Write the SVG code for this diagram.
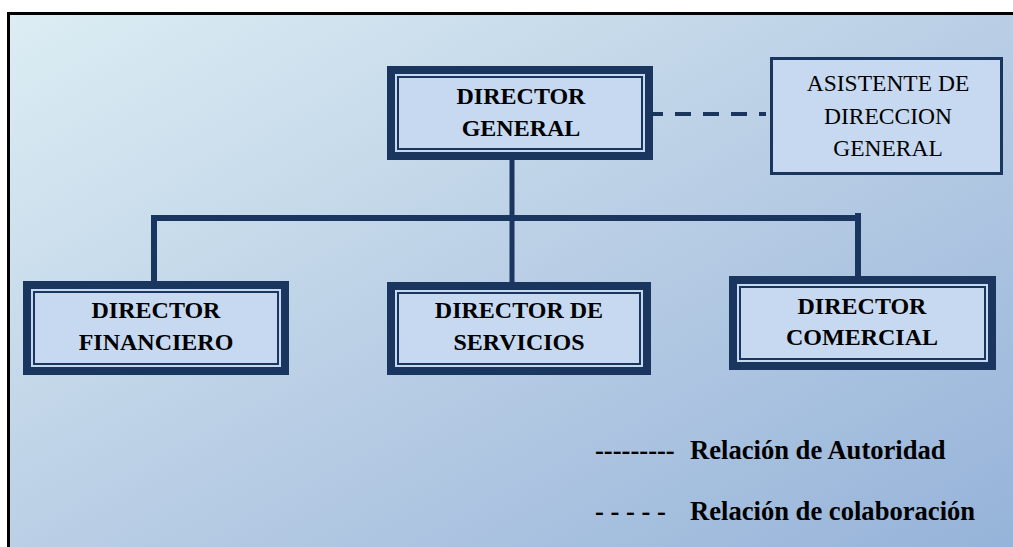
<svg xmlns="http://www.w3.org/2000/svg" width="1013" height="547" viewBox="0 0 1013 547">
  <defs>
    <linearGradient id="bg" x1="0" y1="0" x2="1" y2="1">
      <stop offset="0" stop-color="#dcedf3"/>
      <stop offset="0.5" stop-color="#b9cee5"/>
      <stop offset="1" stop-color="#93b1d8"/>
    </linearGradient>
    <style>
      .outer { fill: #1b365e; }
      .inner { fill: #c6d9f0; }
      .thin { fill: none; stroke: #1b365e; stroke-width: 2; }
      .conn { stroke: #1b365e; fill: none; }
      .tb { font-family: "Liberation Serif", "Times New Roman", serif; font-weight: bold; font-size: 24px; fill: #000; text-anchor: middle; }
      .tr { font-family: "Liberation Serif", "Times New Roman", serif; font-size: 23.5px; fill: #000; text-anchor: middle; }
      .lg { font-family: "Liberation Serif", "Times New Roman", serif; font-weight: bold; font-size: 26.6px; fill: #000; }
    </style>
  </defs>

  <rect x="0" y="0" width="1013" height="547" fill="#ffffff"/>
  <rect x="8.5" y="13.5" width="1020" height="560" fill="url(#bg)" stroke="#000" stroke-width="3"/>

  <g id="connectors">
    <line class="conn" x1="512" y1="158" x2="512" y2="284" stroke-width="5"/>
    <line class="conn" x1="151" y1="218" x2="861" y2="218" stroke-width="6"/>
    <line class="conn" x1="154" y1="215" x2="154" y2="283" stroke-width="6"/>
    <line class="conn" x1="858" y1="213" x2="858" y2="278" stroke-width="6"/>
    <line class="conn" x1="653" y1="114" x2="766" y2="114" stroke-width="4" stroke-dasharray="16 12" stroke-dashoffset="6"/>
  </g>

  <g id="director-general">
    <rect class="outer" x="387" y="66" width="266" height="94"/>
    <rect class="inner" x="395" y="74" width="250" height="78"/>
    <rect class="thin" x="398" y="77" width="244" height="72"/>
    <text class="tb" x="521" y="104">DIRECTOR</text>
    <text class="tb" x="521" y="136">GENERAL</text>
  </g>

  <g id="asistente">
    <rect x="771.5" y="58.5" width="230" height="115" fill="#c6d9f0" stroke="#1b365e" stroke-width="3"/>
    <text class="tr" x="888" y="91">ASISTENTE DE</text>
    <text class="tr" x="888" y="124">DIRECCION</text>
    <text class="tr" x="888" y="156">GENERAL</text>
  </g>

  <g id="director-financiero">
    <rect class="outer" x="23" y="281" width="266" height="94"/>
    <rect class="inner" x="31" y="289" width="250" height="78"/>
    <rect class="thin" x="34" y="292" width="244" height="72"/>
    <text class="tb" x="156" y="318">DIRECTOR</text>
    <text class="tb" x="156" y="350">FINANCIERO</text>
  </g>

  <g id="director-servicios">
    <rect class="outer" x="387" y="282" width="264" height="93"/>
    <rect class="inner" x="395" y="290" width="248" height="77"/>
    <rect class="thin" x="398" y="293" width="242" height="71"/>
    <text class="tb" x="519" y="318">DIRECTOR DE</text>
    <text class="tb" x="519" y="350">SERVICIOS</text>
  </g>

  <g id="director-comercial">
    <rect class="outer" x="729" y="276" width="267" height="94"/>
    <rect class="inner" x="737" y="284" width="251" height="78"/>
    <rect class="thin" x="740" y="287" width="245" height="72"/>
    <text class="tb" x="862" y="314">DIRECTOR</text>
    <text class="tb" x="862" y="345">COMERCIAL</text>
  </g>

  <g id="legend">
    <text class="lg" x="595" y="459">---------</text>
    <text class="lg" x="690" y="459">Relación de Autoridad</text>
    <text class="lg" x="595" y="520">- - - - -</text>
    <text class="lg" x="690" y="520">Relación de colaboración</text>
  </g>
</svg>
